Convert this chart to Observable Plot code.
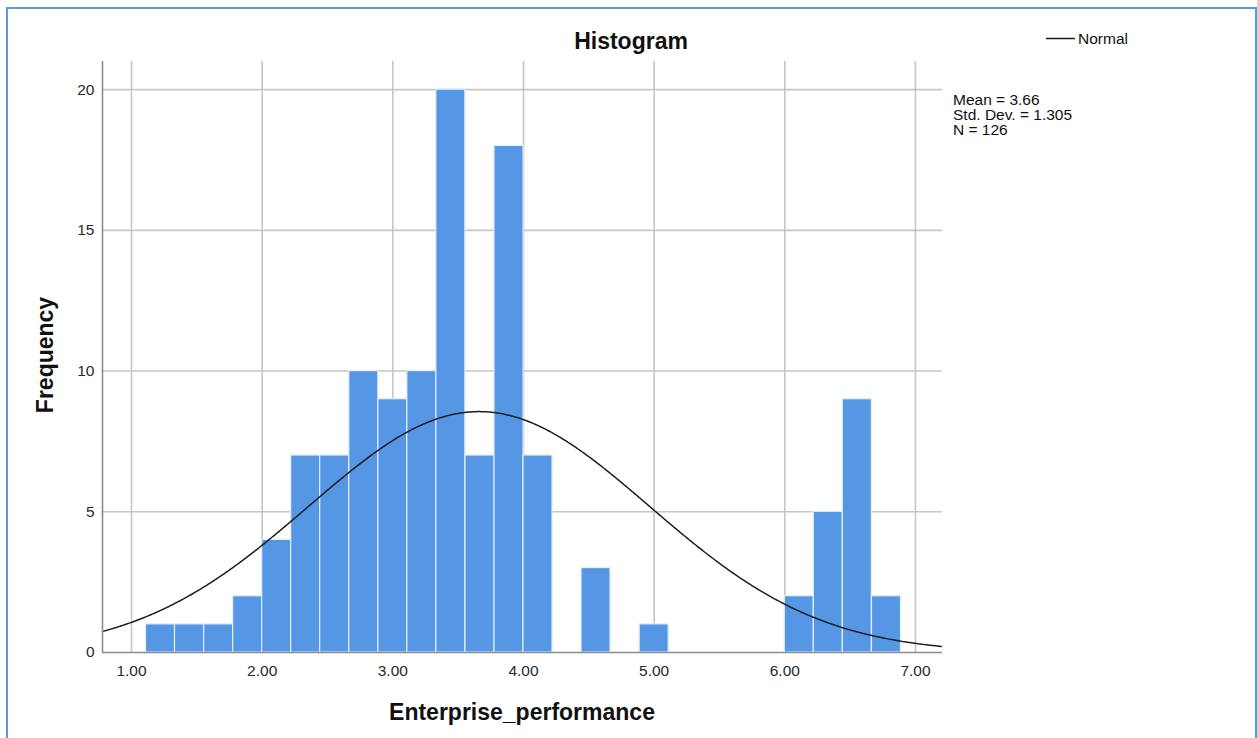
<!DOCTYPE html>
<html>
<head>
<meta charset="utf-8">
<script src="https://cdn.jsdelivr.net/npm/d3@7"></script>
<script src="https://cdn.jsdelivr.net/npm/@observablehq/plot@0.6"></script>
<style>
  html, body { margin: 0; padding: 0; background: #fff; overflow: hidden; }
  #chart { position: absolute; left: 0; top: 0; }
  #frame { position: absolute; left: 6px; top: 7px; width: 1247px; height: 800px;
           border: 2px solid #5b9bd5; pointer-events: none; }
</style>
</head>
<body>
<div id="chart"></div>
<div id="frame"></div>
<script>
// Histogram of Enterprise_performance with a fitted normal curve
const binLower = [1.111, 1.333, 1.556, 1.778, 2.000, 2.222, 2.444, 2.667, 2.889, 3.111,
                  3.333, 3.556, 3.778, 4.000, 4.444, 4.889, 6.000, 6.222, 6.444, 6.667];
const frequency = [1, 1, 1, 2, 4, 7, 7, 10, 9, 10, 20, 7, 18, 7, 3, 1, 2, 5, 9, 2];
const binWidth = 2 / 9;

const meanValue = 3.66;
const stdDev = 1.305;
const sampleN = 126;

const xTicks = [1, 2, 3, 4, 5, 6, 7];
const yTicks = [0, 5, 10, 15, 20];
const xDomain = [0.778, 7.207];
const yDomain = [0, 21];

const bins = binLower.map((lo, i) => ({x1: lo, x2: lo + binWidth, count: frequency[i]}));

// normal density scaled to counts per bin
const curve = d3.range(xDomain[0], xDomain[1] + 1e-9, 0.01).map(x => ({
  x,
  y: sampleN * binWidth * Math.exp(-0.5 * ((x - meanValue) / stdDev) ** 2) / (stdDev * Math.sqrt(2 * Math.PI))
}));

const font = "'Liberation Sans', Arial, Helvetica, sans-serif";

const svgNode = Plot.plot({
  width: 1257,
  height: 738,
  marginLeft: 102,
  marginRight: 315,
  marginTop: 61,
  marginBottom: 86,
  x: {domain: xDomain},
  y: {domain: yDomain},
  style: {fontFamily: font, fontSize: "15px", color: "#2a2a2a", background: "transparent"},
  marks: [
    Plot.gridX(xTicks, {stroke: "#c6c6c6", strokeOpacity: 1, strokeWidth: 1.6}),
    Plot.gridY(yTicks.slice(1), {stroke: "#c6c6c6", strokeOpacity: 1, strokeWidth: 1.6}),
    Plot.rectY(bins, {x1: "x1", x2: "x2", y: "count", fill: "#5597e4",
                      stroke: "#e4eefb", strokeWidth: 1.2}),
    Plot.line(curve, {x: "x", y: "y", stroke: "#1e1e1e", strokeWidth: 1.5}),
    Plot.ruleY([yDomain[0]], {stroke: "#8c8c8c", strokeWidth: 1.6}),
    Plot.ruleX([xDomain[0]], {stroke: "#8c8c8c", strokeWidth: 1.6}),
    Plot.axisY(yTicks, {tickSize: 0, tickPadding: 8, label: null, fontSize: 15.5}),
    Plot.axisX(xTicks, {tickSize: 0, tickPadding: 12, label: null, fontSize: 15.5,
                        tickFormat: d => d.toFixed(2)})
  ]
});

document.getElementById("chart").appendChild(svgNode);

const svg = d3.select(svgNode);
const txt = (x, y, s, opts = {}) => svg.append("text")
  .attr("x", x).attr("y", y)
  .attr("font-family", font)
  .attr("font-size", opts.size || 15)
  .attr("font-weight", opts.weight || "normal")
  .attr("text-anchor", opts.anchor || "start")
  .attr("fill", "#111")
  .text(s);

// title
txt(631, 49, "Histogram", {size: 23, weight: "bold", anchor: "middle"});

// axis titles
txt(522, 720, "Enterprise_performance", {size: 23, weight: "bold", anchor: "middle"});
svg.append("text")
  .attr("transform", "translate(53,355) rotate(-90)")
  .attr("font-family", font).attr("font-size", 23).attr("font-weight", "bold")
  .attr("text-anchor", "middle").attr("fill", "#111")
  .text("Frequency");

// legend
svg.append("line").attr("x1", 1046).attr("x2", 1075).attr("y1", 38.5).attr("y2", 38.5)
  .attr("stroke", "#1e1e1e").attr("stroke-width", 1.5);
txt(1078, 43.5, "Normal", {size: 15.5});

// summary statistics
txt(953, 105, `Mean = ${meanValue.toFixed(2)}`, {size: 15.5});
txt(953, 120, `Std. Dev. = ${stdDev.toFixed(3)}`, {size: 15.5});
txt(953, 135, `N = ${sampleN}`, {size: 15.5});
</script>
</body>
</html>
